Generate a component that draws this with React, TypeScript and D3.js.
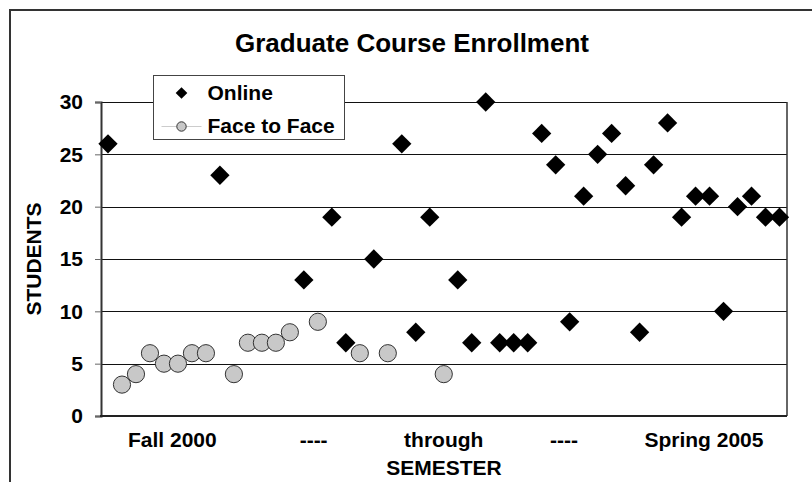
import * as d3 from "d3";
import React, { useRef, useEffect } from "react";

const width = 812;
const height = 482;
const margin = { top: 102, right: 25, bottom: 66, left: 101 };
const font = "'Liberation Sans', Arial, sans-serif";

// one course per slot, either online or face to face (null = other format)
const online = [
  26, null, null, null, null, null, null, null, 23, null, null, null, null,
  null, 13, null, 19, 7, null, 15, null, 26, 8, 19, null, 13, 7, 30, 7, 7, 7,
  27, 24, 9, 21, 25, 27, 22, 8, 24, 28, 19, 21, 21, 10, 20, 21, 19, 19,
];
const faceToFace = [
  null, 3, 4, 6, 5, 5, 6, 6, null, 4, 7, 7, 7, 8, null, 9, null, null, 6,
  null, 6, null, null, null, 4, null, null, null, null, null, null, null,
  null, null, null, null, null, null, null, null, null, null, null, null,
  null, null, null, null, null,
];

// semester labels and the slot (category index) they sit under
const semesterLabels = ["Fall 2000", "----", "through", "----", "Spring 2005"];
const semesterAt = [4.6, 14.7, 24, 32.6, 42.6];

const yTicks = [0, 5, 10, 15, 20, 25, 30];

const EnrollmentChart = () => {
  const svgRef = useRef(null);

  useEffect(() => {
    const svg = d3.select(svgRef.current);
    svg.selectAll("*").remove();

    const n = online.length;
    const xScale = d3
      .scaleLinear()
      .domain([-0.5, n - 0.5])
      .range([margin.left, width - margin.right - 0.5]);
    const yScale = d3
      .scaleLinear()
      .domain([0, 30])
      .range([height - margin.bottom, margin.top]);

    // outer chart frame (runs off the right/bottom edge)
    svg
      .append("rect")
      .attr("x", 10)
      .attr("y", 10)
      .attr("width", 900)
      .attr("height", 600)
      .attr("fill", "white")
      .attr("stroke", "#333")
      .attr("stroke-width", 2);

    // title
    svg
      .append("text")
      .attr("x", 412)
      .attr("y", 52)
      .attr("text-anchor", "middle")
      .style("font", `bold 26px ${font}`)
      .text("Graduate Course Enrollment");

    // gridlines
    svg
      .append("g")
      .selectAll("line")
      .data(yTicks.filter((d) => d > 0))
      .join("line")
      .attr("x1", margin.left)
      .attr("x2", width - margin.right)
      .attr("y1", (d) => Math.round(yScale(d)) + 0.5)
      .attr("y2", (d) => Math.round(yScale(d)) + 0.5)
      .attr("stroke", "#111")
      .attr("stroke-width", 1);

    // right border of plot area
    svg
      .append("line")
      .attr("x1", width - margin.right)
      .attr("x2", width - margin.right)
      .attr("y1", yScale(30))
      .attr("y2", yScale(0))
      .attr("stroke", "#333")
      .attr("stroke-width", 1.5);

    // y axis
    const yAxis = d3
      .axisLeft(yScale)
      .tickValues(yTicks)
      .tickSize(6)
      .tickPadding(12)
      .tickFormat(d3.format("d"));
    const yG = svg
      .append("g")
      .attr("transform", `translate(${margin.left}, 0)`)
      .call(yAxis);
    yG.select(".domain").attr("stroke", "#333").attr("stroke-width", 2);
    yG.selectAll(".tick line").attr("stroke", "#666");
    yG.selectAll(".tick text")
      .style("font", `bold 21px ${font}`)
      .attr("fill", "#000");

    // x axis line
    svg
      .append("line")
      .attr("x1", margin.left - 1)
      .attr("x2", width - margin.right)
      .attr("y1", yScale(0))
      .attr("y2", yScale(0))
      .attr("stroke", "#222")
      .attr("stroke-width", 2);

    // semester labels
    svg
      .append("g")
      .selectAll("text")
      .data(semesterLabels)
      .join("text")
      .attr("x", (d, i) => xScale(semesterAt[i]))
      .attr("y", 447)
      .attr("text-anchor", "middle")
      .style("font", `bold 21px ${font}`)
      .text((d) => d);

    // axis titles
    svg
      .append("text")
      .attr("x", (margin.left + width - margin.right) / 2)
      .attr("y", 475)
      .attr("text-anchor", "middle")
      .style("font", `bold 21px ${font}`)
      .text("SEMESTER");
    svg
      .append("text")
      .attr(
        "transform",
        `translate(41, ${(yScale(0) + yScale(30)) / 2}) rotate(-90)`
      )
      .attr("text-anchor", "middle")
      .style("font", `bold 21px ${font}`)
      .text("STUDENTS");

    const diamond = d3.symbol().type(d3.symbolSquare).size(186);
    const circleR = 8.6;

    // online points
    svg
      .append("g")
      .selectAll("path")
      .data(online.map((v, i) => ({ v, i })).filter((d) => d.v !== null))
      .join("path")
      .attr("d", diamond)
      .attr(
        "transform",
        (d) => `translate(${xScale(d.i)}, ${yScale(d.v)}) rotate(45)`
      )
      .attr("fill", "#000");

    // face to face points
    svg
      .append("g")
      .selectAll("circle")
      .data(faceToFace.map((v, i) => ({ v, i })).filter((d) => d.v !== null))
      .join("circle")
      .attr("cx", (d) => xScale(d.i))
      .attr("cy", (d) => yScale(d.v))
      .attr("r", circleR)
      .attr("fill", "#c8c8c8")
      .attr("stroke", "#333")
      .attr("stroke-width", 1);

    // legend
    const legend = svg.append("g").attr("transform", "translate(153.5, 75.5)");
    legend
      .append("rect")
      .attr("width", 191)
      .attr("height", 64)
      .attr("fill", "white")
      .attr("stroke", "#444")
      .attr("stroke-width", 1);
    legend
      .append("path")
      .attr("d", d3.symbol().type(d3.symbolSquare).size(68))
      .attr("transform", "translate(28, 17.5) rotate(45)")
      .attr("fill", "#000");
    legend
      .append("line")
      .attr("x1", 8)
      .attr("x2", 48)
      .attr("y1", 51)
      .attr("y2", 51)
      .attr("stroke", "#ccc")
      .attr("stroke-width", 1);
    legend
      .append("circle")
      .attr("cx", 28)
      .attr("cy", 51)
      .attr("r", 4.7)
      .attr("fill", "#c8c8c8")
      .attr("stroke", "#333");
    legend
      .selectAll("text")
      .data(["Online", "Face to Face"])
      .join("text")
      .attr("x", 54)
      .attr("y", (d, i) => (i === 0 ? 24 : 57))
      .style("font", `bold 21px ${font}`)
      .text((d) => d);
  }, []);

  return <svg width={width} height={height} ref={svgRef} />;
};

export default function App() {
  return (
    <div style={{ position: "absolute", left: 0, top: 0 }}>
      <EnrollmentChart />
    </div>
  );
}
